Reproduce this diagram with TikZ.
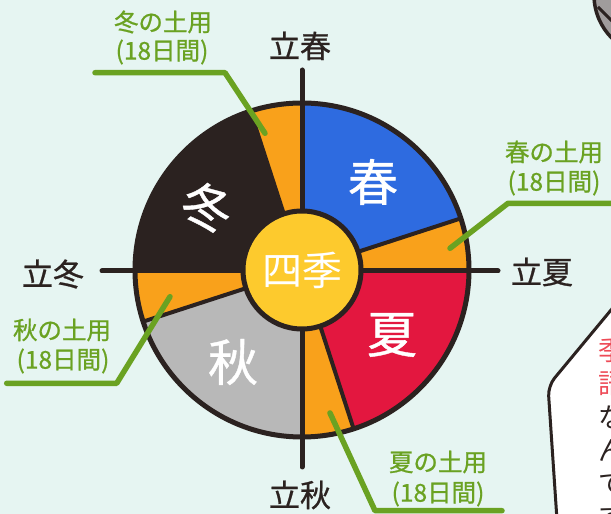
\documentclass[tikz,border=0pt]{standalone}
\usepackage{fontspec}
\setmainfont{Noto Sans CJK JP}
\newfontfamily\medfont[FakeBold=0.8]{Noto Sans CJK JP}
\definecolor{bg}{HTML}{E6F5F2}
\definecolor{ink}{HTML}{2B2220}
\definecolor{sblue}{HTML}{2E6BE0}
\definecolor{sred}{HTML}{E3173F}
\definecolor{sorange}{HTML}{F9A11B}
\definecolor{sgrey}{HTML}{B8B8B8}
\definecolor{syellow}{HTML}{FDCA2D}
\definecolor{dgreen}{HTML}{6AA222}
\definecolor{bubred}{HTML}{EE4B57}
\definecolor{headgrey}{HTML}{A09C9C}
\begin{document}
\begin{tikzpicture}[x=1pt,y=1pt,
  cross/.style={line width=5pt, draw=ink, line cap=round},
  divider/.style={line width=4pt, draw=ink},
  leader/.style={line width=5.5pt, draw=dgreen, line cap=round, line join=round},
  season/.style={text=white, font=\medfont\fontsize{50}{50}\selectfont, inner sep=0pt},
  center label/.style={text=white, font=\fontsize{40}{40}\selectfont, inner sep=0pt},
  pointlabel/.style={text=ink, font=\medfont\fontsize{31}{31}\selectfont, inner sep=0pt},
  doyo/.style={text=dgreen, font=\medfont\fontsize{24.5}{24.5}\selectfont, inner sep=0pt}]
\fill[bg] (0,0) rectangle (611,514);
\useasboundingbox (0,0) rectangle (611,514);
\def\Rout{167}
\def\Rin{59}
\coordinate (C) at (302,244);
% sectors
\fill[sblue]   (C) -- ++(18:\Rout)  arc[start angle=18,  end angle=90,  radius=\Rout] -- cycle;
\fill[sorange] (C) -- ++(0:\Rout)   arc[start angle=0,   end angle=18,  radius=\Rout] -- cycle;
\fill[sred]    (C) -- ++(-72:\Rout) arc[start angle=-72, end angle=0,   radius=\Rout] -- cycle;
\fill[sorange] (C) -- ++(-90:\Rout) arc[start angle=-90, end angle=-72, radius=\Rout] -- cycle;
\fill[sgrey]   (C) -- ++(198:\Rout) arc[start angle=198, end angle=270, radius=\Rout] -- cycle;
\fill[sorange] (C) -- ++(180:\Rout) arc[start angle=180, end angle=198, radius=\Rout] -- cycle;
\fill[ink]     (C) -- ++(108:\Rout) arc[start angle=108, end angle=180, radius=\Rout] -- cycle;
\fill[sorange] (C) -- ++(90:\Rout)  arc[start angle=90,  end angle=108, radius=\Rout] -- cycle;
% dividers
\draw[divider] (C) -- ++(18:\Rout);
\draw[divider] (C) -- ++(-72:\Rout);
\draw[divider] (C) -- ++(198:\Rout);
\draw[divider] (C) -- ++(108:\Rout);
% cross
\coordinate (N) at (302,444);
\coordinate (S) at (302,47);
\coordinate (W) at (102,243);
\coordinate (E) at (498,243);
\draw[cross] (N) -- (S);
\draw[cross] (W) -- (E);
% rims
\draw[ink, line width=5pt] (C) circle[radius=\Rout];
\filldraw[fill=syellow, draw=ink, line width=5pt] (C) circle[radius=\Rin];
% labels
\node[center label] (shiki) at (C) {四季};
\node[season] (haru) at (373,332) {春};
\node[season] (natsu) at (392,179) {夏};
\node[season] (aki) at (233,152) {秋};
\node[season, rotate=-15] (fuyu) at (207,307) {冬};
\node[pointlabel] (risshun) at (300,468) {立春};
\node[pointlabel] (rikka) at (542,242) {立夏};
\node[pointlabel] (risshu) at (300,19) {立秋};
\node[pointlabel] (rittou) at (53,240) {立冬};
\node[doyo] (fuyuD) at (163,492) {冬の土用};
\node[doyo] (fuyuN) at (162,462) {(18日間)};
\node[doyo] (haruD) at (554,362) {春の土用};
\node[doyo] (haruN) at (554,331) {(18日間)};
\node[doyo] (akiD) at (62,184) {秋の土用};
\node[doyo] (akiN) at (63,153) {(18日間)};
\node[doyo] (natsuD) at (438,52) {夏の土用};
\node[doyo] (natsuN) at (438,20) {(18日間)};
% leaders
\coordinate (fw1) at (95,441.3);
\coordinate (fw2) at (225,441.3);
\coordinate (fw3) at (265,380.7);
\draw[leader] (fw1) -- (fw2) -- (fw3);
\coordinate (sp1) at (615,310.7);
\coordinate (sp2) at (508,310.7);
\coordinate (sp3) at (450,265.7);
\draw[leader] (sp1) -- (sp2) -- (sp3);
\coordinate (au1) at (6.7,130.7);
\coordinate (au2) at (116.7,130.7);
\coordinate (au3) at (170,217.3);
\draw[leader] (au1) -- (au2) -- (au3);
\coordinate (su1) at (330,101);
\coordinate (su2) at (375,3.3);
\coordinate (su3) at (502,3.3);
\draw[leader] (su1) -- (su2) -- (su3);
% right side fragments
\begin{scope}
\clip (0,0) rectangle (611,514);
\filldraw[fill=headgrey, draw=ink, line width=3.5pt] (655,519) circle[radius=61];
\draw[ink, line width=3pt] (598,507) -- (630,475);
\coordinate (b1) at (616,210);
\coordinate (b2) at (548,128);
\coordinate (b3) at (557,-6);
\fill[white] (b1) -- (b2) -- (b3) -- (620,-6) -- cycle;
\draw[ink, line width=3pt, rounded corners=10pt] (b1) -- (b2) -- (b3);
\node[text=bubred, font=\fontsize{27}{33}\selectfont, align=center, inner sep=0pt, anchor=north] (kigo) at (612,176) {季\\語};
\node[text=ink, font=\fontsize{27}{33}\selectfont, align=center, inner sep=0pt, anchor=north] (nande) at (612,108) {な\\ん\\で\\す};
\end{scope}
\end{tikzpicture}
\end{document}
